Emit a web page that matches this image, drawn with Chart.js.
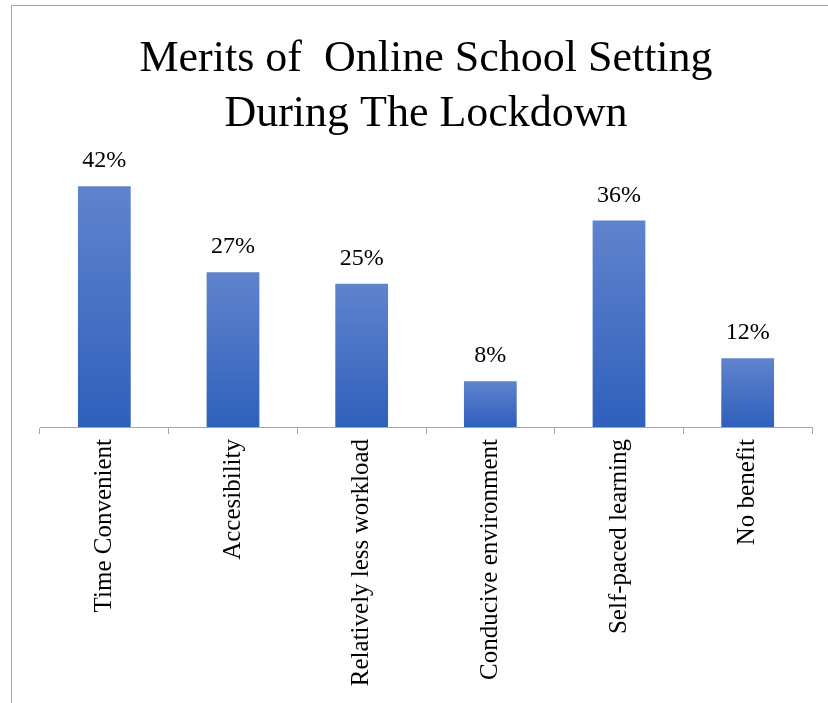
<!DOCTYPE html>
<html>
<head>
<meta charset="utf-8">
<script src="https://cdn.jsdelivr.net/npm/chart.js@4/dist/chart.umd.min.js"></script>
<style>
    html, body { margin: 0; padding: 0; background: #fff; }
    .frame {
        position: absolute;
        left: 11px;
        top: 5px;
        width: 817px;
        height: 698px;
        border-left: 1px solid #a6a6a6;
        border-top: 1px solid #a6a6a6;
    }
    canvas { display: block; }
</style>
</head>
<body>
<div class="frame"><canvas id="merits" width="817" height="698"></canvas></div>
<script>
// Survey results (percent of respondents)
const categories = [
    'Time Convenient',
    'Accesibility',
    'Relatively less workload',
    'Conducive environment',
    'Self-paced learning',
    'No benefit'
];
const shares = [42, 27, 25, 8, 36, 12];
const titleLines = ['Merits of  Online School Setting', 'During The Lockdown'];

const SERIF = "'Liberation Serif', 'DejaVu Serif', serif";

// Each bar gets its own light-to-dark vertical fill
function barFill(ctx) {
    const chart = ctx.chart;
    const y = chart.scales.y;
    if (!chart.chartArea || !y || ctx.dataIndex === undefined) return '#4a72c6';
    const top = y.getPixelForValue(shares[ctx.dataIndex]);
    const bottom = y.getPixelForValue(0);
    if (!isFinite(top) || !isFinite(bottom)) return '#4a72c6';
    const g = chart.ctx.createLinearGradient(0, top, 0, bottom);
    g.addColorStop(0, '#6083cd');
    g.addColorStop(1, '#2f60bc');
    return g;
}

// Value labels above the bars
const valueLabels = {
    id: 'valueLabels',
    afterDatasetsDraw(chart) {
        const ctx = chart.ctx;
        const meta = chart.getDatasetMeta(0);
        ctx.save();
        ctx.font = '24px ' + SERIF;
        ctx.fillStyle = '#000';
        ctx.textAlign = 'center';
        ctx.textBaseline = 'middle';
        meta.data.forEach((bar, i) => {
            ctx.fillText(shares[i] + '%', bar.x, bar.y - 25);
        });
        ctx.restore();
    }
};

new Chart(document.getElementById('merits'), {
    type: 'bar',
    data: {
        labels: categories,
        datasets: [{
            data: shares,
            backgroundColor: barFill,
            borderWidth: 0,
            categoryPercentage: 1,
            barPercentage: 0.41
        }]
    },
    options: {
        responsive: false,
        animation: false,
        layout: { padding: { left: 28, right: 17 } },
        plugins: {
            legend: { display: false },
            tooltip: { enabled: false },
            title: {
                display: true,
                text: titleLines,
                color: '#000',
                font: { family: SERIF, size: 44, weight: 'normal', lineHeight: 1.25 },
                padding: { top: 26, bottom: 27 }
            }
        },
        scales: {
            y: {
                display: false,
                min: 0,
                max: 45
            },
            x: {
                afterFit(scale) { scale.height = 277; },
                border: { display: true, color: '#a6a6a6', width: 1 },
                grid: {
                    offset: true,
                    drawOnChartArea: false,
                    drawTicks: true,
                    tickLength: 7,
                    color: '#a6a6a6'
                },
                ticks: {
                    color: '#000',
                    font: { family: SERIF, size: 25 },
                    minRotation: 90,
                    maxRotation: 90,
                    padding: 5
                }
            }
        }
    },
    plugins: [valueLabels]
});
</script>
</body>
</html>
